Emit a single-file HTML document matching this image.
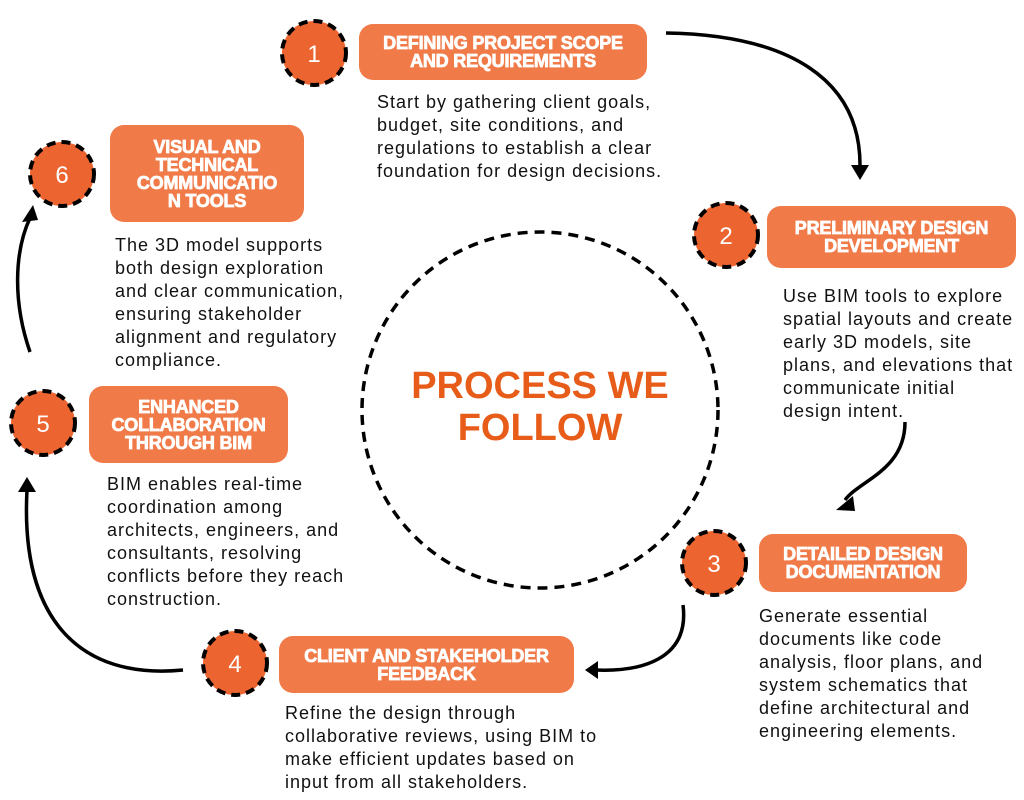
<!DOCTYPE html>
<html><head><style>
body{margin:0;width:1024px;height:800px;background:#fff;position:relative;overflow:hidden;font-family:"Liberation Sans",sans-serif}
.box{position:absolute;background:#f07a48;border-radius:14px;color:#fff;font-weight:900;font-size:18px;line-height:18px;text-align:center;display:flex;align-items:center;justify-content:center;letter-spacing:-0.2px;-webkit-text-stroke:0.8px #fff}
.d{position:absolute;font-size:18px;line-height:23px;color:#111;letter-spacing:1px;white-space:nowrap}
</style></head><body>
<svg width="1024" height="800" style="position:absolute;left:0;top:0">
<g fill="none" stroke="#000" stroke-width="3.5">
<path d="M666,33 C790,35 860,80 860,165"/>
<path d="M905,422 C905,470 860,480 845,500"/>
<path d="M683,605 C690,660 640,672 595,670"/>
<path d="M183,670 C80,680 20,620 27,490"/>
<path d="M30,352 C12,300 15,250 30,218"/>
</g>
<g fill="#000">
<path d="M851,165 L869,165 L860,180 Z"/>
<path d="M836,510 L853,496 L855,511 Z"/>
<path d="M585,670 L598,661 L598,679 Z"/>
<path d="M18,492 L36,492 L27,477 Z"/>
<path d="M22,222 L38,220 L33,205 Z"/>
</g>
<circle cx="540" cy="410" r="178" fill="none" stroke="#000" stroke-width="3.5" stroke-dasharray="10,7"/>
<g fill="#ec6530" stroke="#000" stroke-width="4" stroke-dasharray="9,6">
<circle cx="314" cy="53" r="32"/><circle cx="726" cy="235" r="32"/><circle cx="714" cy="563" r="32"/>
<circle cx="235" cy="663" r="32"/><circle cx="43" cy="423" r="32"/><circle cx="62" cy="174" r="32"/>
</g>
<g fill="#fff" font-size="24" text-anchor="middle" font-family="Liberation Sans">
<text x="314" y="62">1</text><text x="726" y="244">2</text><text x="714" y="572">3</text>
<text x="235" y="672">4</text><text x="43" y="432">5</text><text x="62" y="183">6</text>
</g>
<text x="540" y="398" text-anchor="middle" font-size="38" font-weight="bold" fill="#e85c1a">PROCESS WE</text>
<text x="540" y="440" text-anchor="middle" font-size="38" font-weight="bold" fill="#e85c1a">FOLLOW</text>
</svg>
<div class="box" style="left:359px;top:24px;width:288px;height:56px">DEFINING PROJECT SCOPE<br>AND REQUIREMENTS</div>
<div class="d" style="left:377px;top:91px">Start by gathering client goals,<br>budget, site conditions, and<br>regulations to establish a clear<br>foundation for design decisions.</div>
<div class="box" style="left:767px;top:206px;width:249px;height:62px">PRELIMINARY DESIGN<br>DEVELOPMENT</div>
<div class="d" style="left:783px;top:285px">Use BIM tools to explore<br>spatial layouts and create<br>early 3D models, site<br>plans, and elevations that<br>communicate initial<br>design intent.</div>
<div class="box" style="left:759px;top:534px;width:208px;height:58px">DETAILED DESIGN<br>DOCUMENTATION</div>
<div class="d" style="left:759px;top:605px">Generate essential<br>documents like code<br>analysis, floor plans, and<br>system schematics that<br>define architectural and<br>engineering elements.</div>
<div class="box" style="left:279px;top:636px;width:295px;height:57px">CLIENT AND STAKEHOLDER<br>FEEDBACK</div>
<div class="d" style="left:285px;top:702px">Refine the design through<br>collaborative reviews, using BIM to<br>make efficient updates based on<br>input from all stakeholders.</div>
<div class="box" style="left:89px;top:386px;width:199px;height:77px">ENHANCED<br>COLLABORATION<br>THROUGH BIM</div>
<div class="d" style="left:107px;top:473px">BIM enables real-time<br>coordination among<br>architects, engineers, and<br>consultants, resolving<br>conflicts before they reach<br>construction.</div>
<div class="box" style="left:110px;top:125px;width:194px;height:97px">VISUAL AND<br>TECHNICAL<br>COMMUNICATIO<br>N TOOLS</div>
<div class="d" style="left:115px;top:234px">The 3D model supports<br>both design exploration<br>and clear communication,<br>ensuring stakeholder<br>alignment and regulatory<br>compliance.</div>
</body></html>
